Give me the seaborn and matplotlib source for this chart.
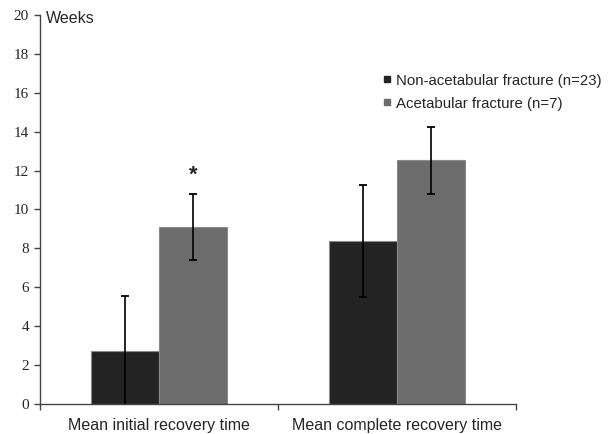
import numpy as np
import pandas as pd
import matplotlib
matplotlib.use("Agg")
import matplotlib.pyplot as plt
from matplotlib.lines import Line2D
import seaborn as sns

# Values (weeks)
categories = ["Mean initial recovery time", "Mean complete recovery time"]
groups = ["Non-acetabular fracture (n=23)", "Acetabular fracture (n=7)"]
non_acetabular_mean = [2.72, 8.38]
non_acetabular_err = [2.83, 2.87]
acetabular_mean = [9.08, 12.52]
acetabular_err = [1.70, 1.70]
y_ticks = [0, 2, 4, 6, 8, 10, 12, 14, 16, 18, 20]

colors = ["#232323", "#6c6c6c"]

df = pd.DataFrame({
    "Category": categories * 2,
    "Group": [groups[0]] * 2 + [groups[1]] * 2,
    "Weeks": non_acetabular_mean + acetabular_mean,
})
errs = {groups[0]: non_acetabular_err, groups[1]: acetabular_err}

sns.set_style("white")
plt.rcParams["font.family"] = ["Liberation Sans", "DejaVu Sans"]

fig = plt.figure(figsize=(6.16, 4.34), dpi=100)
ax = fig.add_axes([40 / 616, 1 - 404 / 434, 476 / 616, 389 / 434])

sns.barplot(data=df, x="Category", y="Weeks", hue="Group", order=categories,
            hue_order=groups, palette=colors, width=0.572, errorbar=None,
            edgecolor="#8a8a8a", linewidth=0.8, saturation=1, ax=ax, legend=False)

# error bars on top of each bar
for cont, grp in zip(ax.containers, groups):
    for bar, e in zip(cont, errs[grp]):
        xc = bar.get_x() + bar.get_width() / 2
        ax.errorbar(xc, bar.get_height(), yerr=e, fmt="none", ecolor="black",
                    elinewidth=1.2, capsize=3, capthick=1.3, zorder=5)

# significance marker
ax.text(ax.containers[1][0].get_x() + ax.containers[1][0].get_width() / 2, 11.75, "*",
        ha="center", va="center", fontsize=16, fontweight="bold")

ax.set_ylim(0, 20)
ax.set_xlim(-0.5, 1.5)
ax.set_yticks(y_ticks)
ax.set_yticklabels([str(t) for t in y_ticks], family="Liberation Serif", fontsize=11)
ax.set_xticks([-0.5, 0.5, 1.5], minor=True)
ax.tick_params(axis="x", which="major", length=0, labelsize=11.5, pad=10)
ax.tick_params(axis="x", which="minor", bottom=True, length=4, direction="out",
               color="#444444", width=1)
ax.tick_params(axis="y", left=True, length=4, direction="out", color="#444444",
               width=1, pad=4)
ax.set_xlabel("")
ax.set_ylabel("")
sns.despine(ax=ax)
for s in ["left", "bottom"]:
    ax.spines[s].set_color("#444444")
    ax.spines[s].set_linewidth(1)

ax.text(0.012, 0.99, "Weeks", transform=ax.transAxes, fontsize=11.5, va="center")

handles = [Line2D([], [], marker="s", linestyle="none", markersize=5,
                  markerfacecolor=c, markeredgecolor=c) for c in colors]
ax.legend(handles, groups, loc="upper left", bbox_to_anchor=(0.7, 0.865),
          frameon=False, fontsize=10.8, handletextpad=0.1, handlelength=1,
          labelspacing=0.6, borderaxespad=0)

fig.savefig("out.png", dpi=100)
